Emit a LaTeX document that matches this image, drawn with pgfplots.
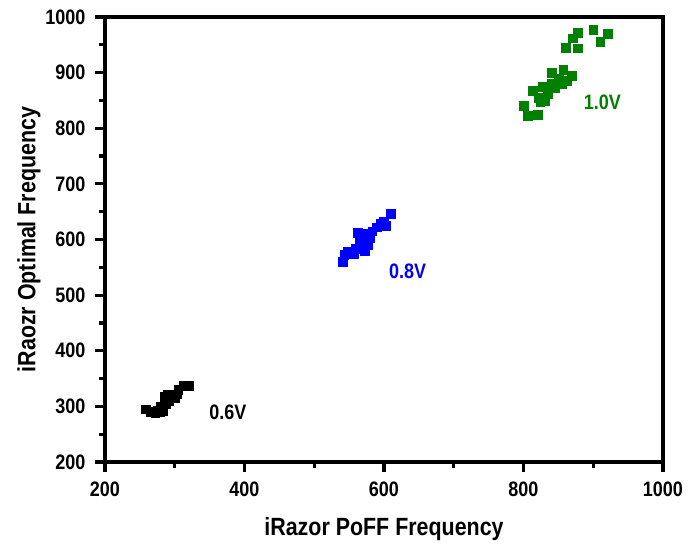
\documentclass[border=0pt]{standalone}
\usepackage{fontspec}
\setmainfont{Liberation Sans}[FakeStretch=0.86]
\usepackage{pgfplots}
\pgfplotsset{compat=1.18}
\definecolor{dgreen}{RGB}{0,128,0}
\begin{document}
\begin{tikzpicture}
\begin{axis}[
  scale only axis, width=558bp, height=445bp,
  xmin=200, xmax=1000, ymin=200, ymax=1000,
  xtick={200,400,600,800,1000}, ytick={200,300,...,1000},
  minor x tick num=1, minor y tick num=1,
  xtick pos=bottom, ytick pos=left,
  tick align=outside,
  major tick length=10bp, minor tick length=6bp,
  axis line style={line width=4bp},
  tick style={black, line width=3.2bp},
  /pgf/number format/assume math mode=true,
  /pgf/number format/1000 sep={},
  tick label style={font=\fontsize{21}{23}\selectfont\bfseries},
  xticklabel style={yshift=-6bp},
  yticklabel style={xshift=-6bp},
  xlabel={iRazor PoFF Frequency}, ylabel={iRaozr Optimal Frequency},
  label style={font=\fontsize{25}{27}\selectfont\bfseries},
  xlabel style={yshift=-14bp},
  ylabel style={yshift=-2bp},
  clip=false,
]
\addplot[only marks, mark=square*, mark size=4.4bp, black] coordinates {
(258,295)(265,290)(272,288)(278,290)(283,292)(276,293)(280,300)(287,305)
(285,318)(290,322)(292,310)(296,320)(300,315)(303,322)(305,330)(312,337)(320,337)
};
\addplot[only marks, mark=square*, mark size=4.4bp, blue] coordinates {
(541,560)(543,572)(548,578)(556,575)(560,583)(562,612)(565,598)(567,590)
(570,600)(572,580)(575,610)(577,590)(580,603)(583,615)(590,622)(595,628)
(600,632)(603,625)(610,647)
};
\addplot[only marks, mark=square*, mark size=4.4bp, dgreen] coordinates {
(800,840)(806,822)(820,825)(813,868)(822,855)(824,848)(828,875)(830,850)(835,862)
(840,880)(845,872)(841,900)(850,890)(855,880)(857,905)(862,885)(869,895)
(860,945)(870,962)(878,944)(878,972)(900,977)(910,955)(921,970)
};
\node[font=\fontsize{21}{23}\selectfont\bfseries, black] at (axis cs:376,290) {0.6V};
\node[font=\fontsize{21}{23}\selectfont\bfseries, blue] at (axis cs:634,542) {0.8V};
\node[font=\fontsize{21}{23}\selectfont\bfseries, dgreen] at (axis cs:913,846) {1.0V};
\end{axis}
\path[use as bounding box] (-105bp,-84bp) rectangle ++(696bp,546bp);
\end{tikzpicture}
\end{document}
